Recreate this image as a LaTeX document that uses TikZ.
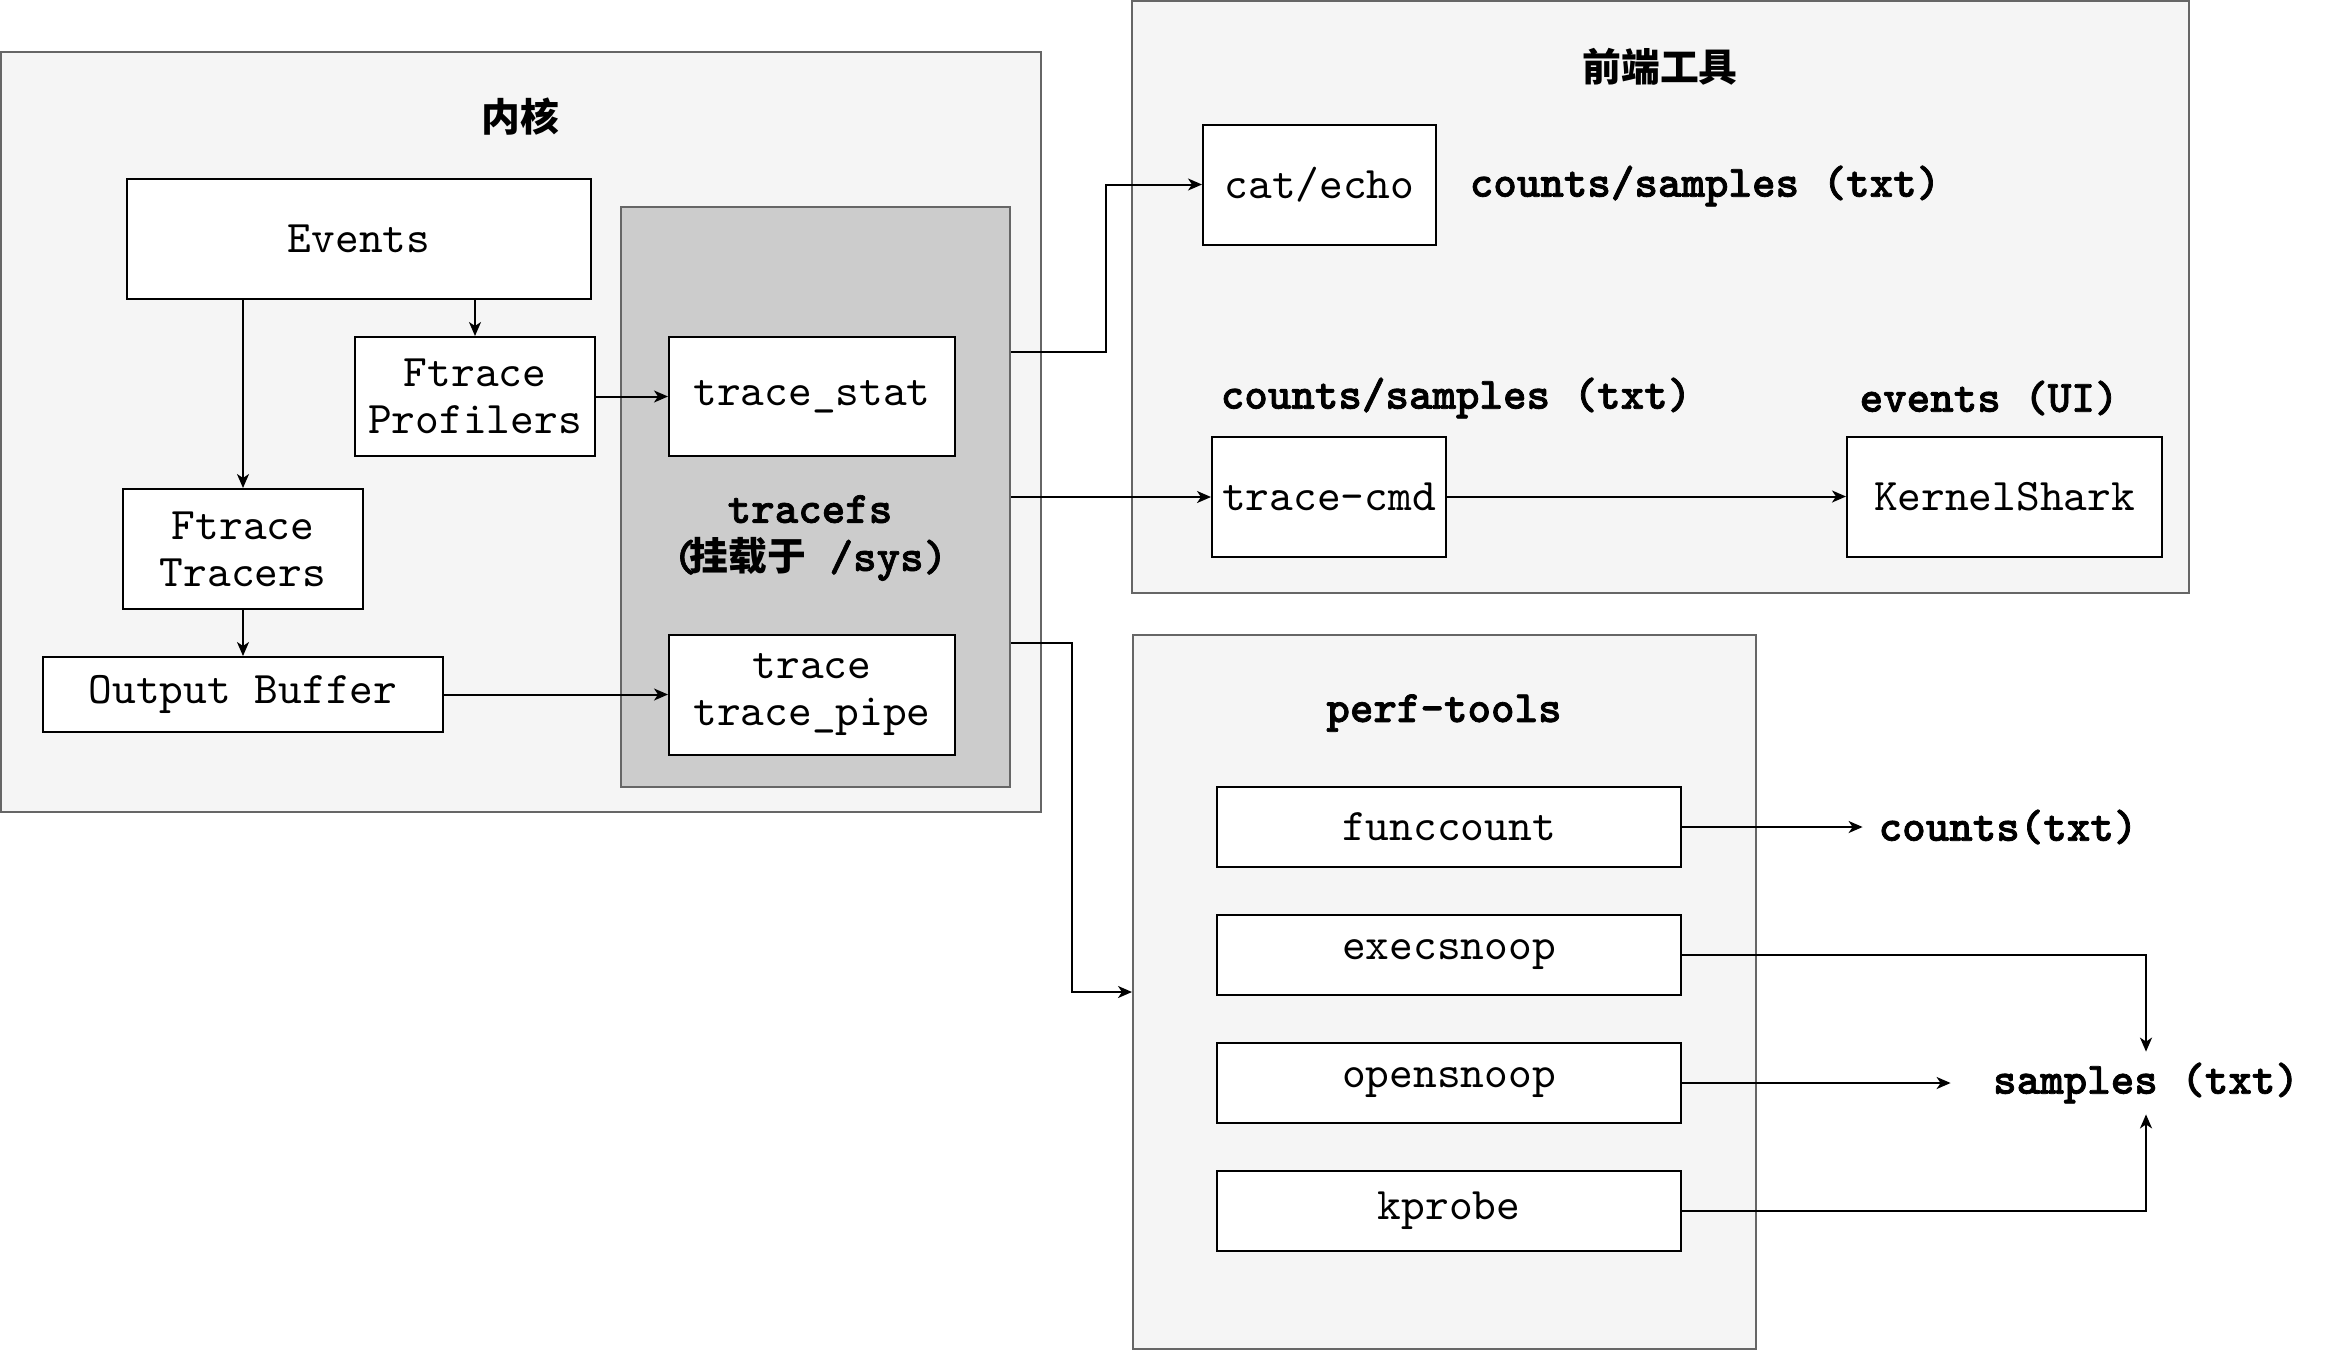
\documentclass[tikz,border=0pt]{standalone}
\usepackage{fontspec}
\setmainfont{lmmono10-regular}[Extension=.otf, BoldFont=lmmonolt10-bold, BoldFeatures={FakeBold=1.6}]
\newfontfamily\cjk{Noto Sans CJK SC}
\usetikzlibrary{arrows.meta,calc}
\definecolor{contfill}{HTML}{F5F5F5}
\definecolor{contdraw}{HTML}{666666}
\definecolor{tfsfill}{HTML}{CCCCCC}
\begin{document}
\begin{tikzpicture}[x=0.5pt,y=-0.5pt,
  every node/.style={font=\fontsize{22.6}{23.5}\selectfont},
  cont/.style={draw=contdraw, fill=contfill, line width=1pt, inner sep=0pt},
  box/.style={draw=black, fill=white, line width=1pt, inner sep=0pt, align=center},
  lbl/.style={font=\fontsize{22.4}{24}\selectfont\bfseries, inner sep=0pt, align=center},
  ttl/.style={font=\fontsize{19.4}{24}\selectfont\cjk\bfseries, inner sep=0pt},
  arr/.style={-{Stealth[length=7pt,width=6pt,inset=2pt]}, line width=1pt},
]
\useasboundingbox[fill=white] (0,0) rectangle (2344,1350);

% containers
\node[cont, minimum width=520pt, minimum height=380pt] (kern) at (521,432) {};
\node[cont, minimum width=528.5pt, minimum height=296pt] (front) at (1660.5,297) {};
\node[cont, minimum width=311.5pt, minimum height=357pt] (perf) at (1444.5,992) {};
\node[cont, fill=tfsfill, minimum width=194.5pt, minimum height=290pt] (tfs) at (815.5,497) {};

% titles
\node[ttl] (tkern) at (520,117) {内核};
\node[ttl] (tfront) at (1660,67) {前端工具};
\node[lbl] (ttfs) at (810,538) {tracefs\\(\kern-0.15em\cjk\fontsize{19.4}{24}\selectfont\bfseries 挂载于\normalfont\fontsize{22.4}{24}\selectfont\bfseries{} /sys)};
\node[lbl] (tperf) at (1444,713) {perf-tools};

% kernel boxes
\node[box, minimum width=232pt, minimum height=60pt] (ev) at (359,239) {Events};
\node[box, minimum width=120pt, minimum height=59.5pt] (prof) at (475,396.5) {Ftrace\\Profilers};
\node[box, minimum width=120pt, minimum height=60pt] (tr) at (243,549) {Ftrace\\Tracers};
\node[box, minimum width=200pt, minimum height=37.5pt] (ob) at (243,694.5) {Output Buffer};
\node[box, minimum width=143pt, minimum height=59.5pt] (ts) at (812,396.5) {trace\_stat};
\node[box, minimum width=143pt, minimum height=60pt] (tp) at (812,694.5) {trace\\trace\_pipe};

% front-end boxes
\node[box, minimum width=116.5pt, minimum height=60pt] (cat) at (1319.5,184.5) {cat/echo};
\node[box, minimum width=117pt, minimum height=60pt] (tc) at (1329,496.5) {trace-cmd};
\node[box, minimum width=157.5pt, minimum height=60pt] (ks) at (2004.5,496.5) {KernelShark};
\node[lbl] (l1) at (1705,186) {counts/samples (txt)};
\node[lbl] (l2) at (1456,398) {counts/samples (txt)};
\node[lbl] (l3) at (1989,398) {events (UI)};

% perf-tools boxes
\node[box, minimum width=232pt, minimum height=40pt] (fc) at (1449,827) {funccount};
\node[box, minimum width=232pt, minimum height=40pt] (es) at (1449,955) {execsnoop};
\node[box, minimum width=232pt, minimum height=40pt] (os) at (1449,1083) {opensnoop};
\node[box, minimum width=232pt, minimum height=40pt] (kp) at (1449,1211) {kprobe};
\node[lbl, minimum width=145pt, minimum height=20pt] (cnt) at (2008,827) {counts(txt)};
\node[lbl, minimum width=195pt, minimum height=31pt] (samp) at (2146,1083) {samples (txt)};

% exit points on tracefs
\coordinate (p1) at ($(tfs.north east)!0.25!(tfs.south east)$);
\coordinate (p3) at ($(tfs.north east)!0.75!(tfs.south east)$);

% connectors
\draw[arr] (ev.south -| tr.north) -- (tr.north);
\draw[arr] (ev.south -| prof.north) -- (prof.north);
\draw[arr] (tr.south) -- (ob.north);
\draw[arr] (prof.east) -- (ts.west);
\draw[arr] (ob.east) -- (tp.west);
\draw[arr] (p1) -- ++(95,0) |- (cat.west);
\draw[arr] (tfs.east) -- (tfs.east -| tc.west);
\draw[arr] (tc.east) -- (ks.west);
\draw[arr] (p3) -- ++(61,0) |- (perf.west);
\draw[arr] (fc.east) -- (cnt.west);
\draw[arr] (es.east) -| (samp.north);
\draw[arr] (os.east) -- (samp.west);
\draw[arr] (kp.east) -| (samp.south);
\end{tikzpicture}
\end{document}
